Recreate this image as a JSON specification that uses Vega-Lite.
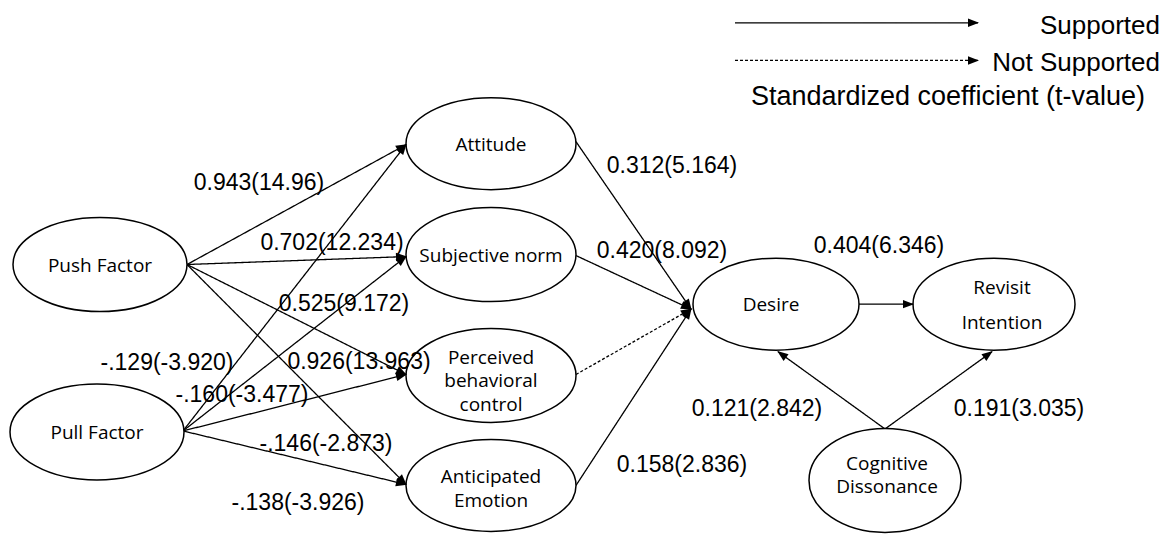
{
  "$schema": "https://vega.github.io/schema/vega-lite/v6.json",
  "width": 1168,
  "height": 535,
  "autosize": {"type": "fit", "contains": "padding"},
  "padding": 0,
  "background": "white",
  "config": {"view": {"stroke": null}},
  "datasets": {
    "nodes": [
      {"node": "Push Factor", "x": 100, "y": 267},
      {"node": "Pull Factor", "x": 97, "y": 436},
      {"node": "Attitude", "x": 491, "y": 145},
      {"node": "Subjective norm", "x": 491, "y": 257},
      {"node": "Perceived behavioral control", "x": 491, "y": 379},
      {"node": "Anticipated Emotion", "x": 491, "y": 490},
      {"node": "Desire", "x": 776, "y": 307},
      {"node": "Revisit Intention", "x": 994, "y": 307},
      {"node": "Cognitive Dissonance", "x": 885, "y": 485}
    ],
    "edges": [
      {"from": "Push Factor", "to": "Attitude", "x": 187, "y": 267, "x2": 406, "y2": 146, "status": "Supported"},
      {"from": "Push Factor", "to": "Subjective norm", "x": 187, "y": 267, "x2": 406, "y2": 259, "status": "Supported"},
      {"from": "Push Factor", "to": "Perceived behavioral control", "x": 187, "y": 267, "x2": 406, "y2": 378, "status": "Supported"},
      {"from": "Push Factor", "to": "Anticipated Emotion", "x": 187, "y": 267, "x2": 406, "y2": 489, "status": "Supported"},
      {"from": "Pull Factor", "to": "Attitude", "x": 183, "y": 435, "x2": 406, "y2": 146, "status": "Supported"},
      {"from": "Pull Factor", "to": "Subjective norm", "x": 183, "y": 435, "x2": 406, "y2": 259, "status": "Supported"},
      {"from": "Pull Factor", "to": "Perceived behavioral control", "x": 183, "y": 435, "x2": 406, "y2": 378, "status": "Supported"},
      {"from": "Pull Factor", "to": "Anticipated Emotion", "x": 183, "y": 435, "x2": 406, "y2": 489, "status": "Supported"},
      {"from": "Attitude", "to": "Desire", "x": 576, "y": 143, "x2": 691, "y2": 312, "status": "Supported"},
      {"from": "Subjective norm", "to": "Desire", "x": 576, "y": 258, "x2": 691, "y2": 312, "status": "Supported"},
      {"from": "Perceived behavioral control", "to": "Desire", "x": 576, "y": 378, "x2": 691, "y2": 312, "status": "Not Supported"},
      {"from": "Anticipated Emotion", "to": "Desire", "x": 576, "y": 490, "x2": 691, "y2": 312, "status": "Supported"},
      {"from": "Desire", "to": "Revisit Intention", "x": 858, "y": 307, "x2": 913, "y2": 307, "status": "Supported"},
      {"from": "Cognitive Dissonance", "to": "Desire", "x": 885, "y": 433, "x2": 778, "y2": 355, "status": "Supported"},
      {"from": "Cognitive Dissonance", "to": "Revisit Intention", "x": 885, "y": 433, "x2": 992, "y2": 355, "status": "Supported"},
      {"from": "legend", "to": "Supported", "x": 735, "y": 23, "x2": 978, "y2": 23, "status": "Supported"},
      {"from": "legend", "to": "Not Supported", "x": 735, "y": 61, "x2": 978, "y2": 61, "status": "Not Supported"}
    ],
    "nodeLabels": [
      {"text": "Push Factor", "x": 100, "y": 275},
      {"text": "Pull Factor", "x": 97, "y": 443},
      {"text": "Attitude", "x": 491, "y": 152},
      {"text": "Subjective norm", "x": 491, "y": 264},
      {"text": "Perceived", "x": 491, "y": 367},
      {"text": "behavioral", "x": 491, "y": 391},
      {"text": "control", "x": 491, "y": 415},
      {"text": "Anticipated", "x": 491, "y": 488},
      {"text": "Emotion", "x": 491, "y": 512},
      {"text": "Desire", "x": 771, "y": 314},
      {"text": "Revisit", "x": 1002, "y": 297},
      {"text": "Intention", "x": 1002, "y": 332},
      {"text": "Cognitive", "x": 887, "y": 474},
      {"text": "Dissonance", "x": 887, "y": 498}
    ],
    "coefs": [
      {"text": "0.943(14.96)", "x": 259, "y": 182},
      {"text": "0.702(12.234)", "x": 332, "y": 242},
      {"text": "0.525(9.172)", "x": 344, "y": 304},
      {"text": "-.129(-3.920)", "x": 167, "y": 363},
      {"text": "0.926(13.963)", "x": 359, "y": 362},
      {"text": "-.160(-3.477)", "x": 242, "y": 396},
      {"text": "-.146(-2.873)", "x": 326, "y": 445},
      {"text": "-.138(-3.926)", "x": 298, "y": 505},
      {"text": "0.312(5.164)", "x": 672, "y": 165},
      {"text": "0.420(8.092)", "x": 662, "y": 250},
      {"text": "0.158(2.836)", "x": 682, "y": 466},
      {"text": "0.404(6.346)", "x": 879, "y": 245},
      {"text": "0.121(2.842)", "x": 757, "y": 410},
      {"text": "0.191(3.035)", "x": 1019, "y": 410}
    ],
    "legendRight": [
      {"text": "Supported", "x": 1160, "y": 25},
      {"text": "Not Supported", "x": 1160, "y": 63}
    ],
    "legendCenter": [
      {"text": "Standardized coefficient (t-value)", "x": 948, "y": 97}
    ]
  },
  "encoding": {
    "x": {"field": "x", "type": "quantitative", "scale": {"domain": [0, 1168], "nice": false, "zero": false}, "axis": null},
    "y": {"field": "y", "type": "quantitative", "scale": {"domain": [0, 535], "nice": false, "zero": false, "reverse": true}, "axis": null}
  },
  "layer": [
    {
      "data": {"name": "edges"},
      "mark": {"type": "rule", "color": "black", "strokeWidth": 1.3},
      "encoding": {
        "x2": {"field": "x2"},
        "y2": {"field": "y2"},
        "strokeDash": {"field": "status", "type": "nominal", "scale": {"domain": ["Supported", "Not Supported"], "range": [[1, 0], [3, 2]]}, "legend": null}
      }
    },
    {
      "data": {"name": "nodes"},
      "mark": {"type": "point", "filled": true, "fill": "white", "stroke": "black", "strokeWidth": 1.5, "opacity": 1, "size": 4},
      "encoding": {
        "shape": {
          "field": "node", "type": "nominal", "legend": null,
          "scale": {
            "domain": ["Push Factor", "Pull Factor", "Attitude", "Subjective norm", "Perceived behavioral control", "Anticipated Emotion", "Desire", "Revisit Intention", "Cognitive Dissonance"],
            "range": [
              "M-87,0A87,47,0,1,0,87,0A87,47,0,1,0,-87,0Z",
              "M-87,0A87,48,0,1,0,87,0A87,48,0,1,0,-87,0Z",
              "M-85,0A85,46,0,1,0,85,0A85,46,0,1,0,-85,0Z",
              "M-85,0A85,47,0,1,0,85,0A85,47,0,1,0,-85,0Z",
              "M-85,0A85,47,0,1,0,85,0A85,47,0,1,0,-85,0Z",
              "M-85,0A85,46,0,1,0,85,0A85,46,0,1,0,-85,0Z",
              "M-83,0A83,46,0,1,0,83,0A83,46,0,1,0,-83,0Z",
              "M-81,0A81,46,0,1,0,81,0A81,46,0,1,0,-81,0Z",
              "M-76,0A76,52,0,1,0,76,0A76,52,0,1,0,-76,0Z"
            ]
          }
        }
      }
    },
    {
      "data": {"name": "edges"},
      "transform": [{"calculate": "atan2(datum.y2 - datum.y, datum.x2 - datum.x) * 180 / PI", "as": "angle"}],
      "mark": {"type": "point", "filled": true, "fill": "black", "strokeWidth": 0, "opacity": 1, "size": 4, "shape": "M1,0L-10,-4.2L-10,4.2Z"},
      "encoding": {
        "x": {"field": "x2", "type": "quantitative"},
        "y": {"field": "y2", "type": "quantitative"},
        "angle": {"field": "angle", "type": "quantitative", "scale": null}
      }
    },
    {
      "data": {"name": "nodeLabels"},
      "mark": {"type": "text", "font": "Open Sans", "fontSize": 19, "color": "black", "baseline": "alphabetic", "align": "center"},
      "encoding": {"text": {"field": "text"}}
    },
    {
      "data": {"name": "coefs"},
      "mark": {"type": "text", "font": "Liberation Sans", "fontSize": 23, "color": "black", "baseline": "middle", "align": "center", "dy": 3},
      "encoding": {"text": {"field": "text"}}
    },
    {
      "data": {"name": "legendRight"},
      "mark": {"type": "text", "font": "Liberation Sans", "fontSize": 26, "color": "black", "baseline": "middle", "align": "right", "dy": 1},
      "encoding": {"text": {"field": "text"}}
    },
    {
      "data": {"name": "legendCenter"},
      "mark": {"type": "text", "font": "Liberation Sans", "fontSize": 27, "color": "black", "baseline": "middle", "align": "center", "dy": 1},
      "encoding": {"text": {"field": "text"}}
    }
  ]
}
